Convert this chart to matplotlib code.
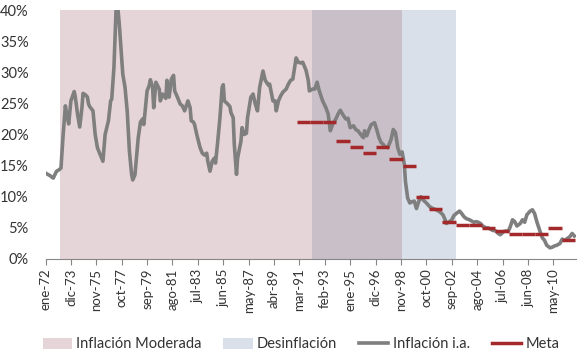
import numpy as np
import matplotlib
matplotlib.use('Agg')
import matplotlib.pyplot as plt
from matplotlib.patches import Patch
from matplotlib.lines import Line2D

plt.rcParams['font.family'] = ['Lato', 'DejaVu Sans']

# month index (0 = ene-72) and annual inflation (%)
months = [0, 2, 4, 7, 10, 12, 14, 16, 18, 19, 21, 23, 26, 27, 29, 31, 33, 34, 36, 38,
          39, 40, 43, 45, 47, 49, 52, 54, 57, 59, 60, 62, 64, 65, 67, 70, 72, 74, 76, 78,
          79, 81, 82, 84, 86, 88, 89, 90, 92, 94, 95, 97, 98, 100, 103, 104, 106, 109, 110, 112,
          114, 116, 117, 119, 122, 124, 126, 128, 129, 131, 132, 134, 135, 137, 140, 142, 144, 146, 147, 149,
          151, 153, 154, 156, 158, 160, 161, 162, 165, 167, 168, 170, 171, 173, 174, 177, 178, 180, 182, 183,
          186, 188, 190, 192, 194, 197, 199, 202, 203, 206, 208, 209, 211, 213, 215, 218, 220, 222, 224, 226,
          227, 229, 231, 233, 236, 238, 239, 242, 244, 246, 248, 251, 254, 256, 258, 260, 263, 265, 267, 270,
          272, 274, 276, 279, 281, 283, 286, 288, 289, 291, 293, 295, 298, 300, 302, 304, 306, 307, 310, 313,
          315, 317, 319, 321, 323, 325, 326, 328, 330, 332, 334, 336, 338, 340, 342, 345, 348, 351, 354, 357,
          360, 362, 363, 366, 368, 370, 372, 375, 377, 379, 381, 384, 386, 388, 390, 392, 394, 396, 399, 401,
          403, 405, 408, 410, 412, 415, 417, 419, 421, 423, 425, 427, 430, 432, 434, 436, 439, 441, 443, 445,
          448, 450, 452, 454, 457, 459, 461, 463, 466, 468, 470, 472, 475, 477, 479]
inflacion = [13.8, 13.6, 13.4, 13.0, 14.1, 14.3, 14.6, 20.0, 24.6, 23.5, 21.7, 25.4, 26.9, 26.0, 23.3, 21.2, 24.3, 26.6, 26.4, 26.0,
             24.9, 24.5, 23.8, 20.0, 17.9, 17.0, 15.7, 20.0, 22.2, 25.4, 25.7, 30.8, 40.5, 41.5, 37.3, 29.7, 27.6, 23.8, 17.3, 13.6,
             12.7, 13.5, 15.5, 19.5, 22.0, 22.5, 21.6, 23.3, 27.0, 27.9, 28.8, 27.6, 24.3, 28.4, 27.3, 25.4, 26.5, 25.8, 28.7, 26.0,
             28.9, 29.5, 27.0, 26.2, 24.9, 24.6, 23.8, 24.9, 25.4, 24.3, 22.2, 22.0, 21.6, 20.0, 17.9, 17.0, 16.7, 17.0, 15.7, 14.1,
             15.7, 16.2, 15.4, 18.9, 22.7, 27.6, 28.0, 25.4, 24.9, 24.5, 23.5, 22.7, 18.4, 13.6, 16.2, 18.9, 21.1, 20.0, 20.2, 22.7,
             26.0, 26.5, 24.9, 23.8, 27.6, 30.2, 28.7, 27.9, 28.1, 25.4, 25.4, 23.8, 25.4, 26.2, 26.8, 27.3, 28.1, 28.7, 28.9, 31.1,
             32.3, 31.6, 31.5, 31.6, 30.3, 28.7, 27.0, 27.3, 27.3, 28.4, 27.0, 25.4, 24.3, 23.3, 20.6, 21.6, 22.5, 23.3, 23.9, 23.0,
             22.5, 22.6, 21.1, 21.4, 20.8, 20.6, 19.9, 19.5, 20.6, 19.8, 20.8, 21.6, 21.9, 20.8, 19.5, 18.7, 18.4, 18.1, 17.9, 19.2,
             20.8, 20.3, 17.9, 16.8, 17.2, 15.2, 12.5, 9.8, 9.0, 9.2, 9.3, 8.1, 9.2, 10.0, 9.5, 9.0, 8.4, 8.1, 7.9, 7.6,
             7.1, 6.3, 5.7, 6.0, 6.3, 7.0, 7.3, 7.7, 7.3, 6.8, 6.5, 6.3, 6.1, 5.9, 6.0, 5.9, 5.7, 5.3, 5.0, 5.0,
             4.8, 4.6, 4.5, 4.1, 3.9, 4.4, 4.5, 4.4, 5.2, 6.3, 6.0, 5.3, 5.7, 6.3, 5.9, 7.1, 7.7, 7.9, 7.3, 6.0,
             4.4, 3.4, 3.0, 2.2, 1.8, 1.9, 2.1, 2.2, 2.5, 3.2, 3.0, 3.2, 3.6, 4.1, 3.7]

# inflation target by year (%)
meta_anios = [1991, 1992, 1993, 1994, 1995, 1996, 1997, 1998, 1999, 2000, 2001,
              2002, 2003, 2004, 2005, 2006, 2007, 2008, 2009, 2010, 2011]
meta = [22, 22, 22, 19, 18, 17, 18, 16, 15, 10, 8,
        6, 5.5, 5.5, 5, 4.5, 4, 4, 4, 5, 3]

# shaded periods, as month index (start, end)
moderada = (13, 323)
desinflacion = (241, 372)

tick_labels = ['ene-72', 'dic-73', 'nov-75', 'oct-77', 'sep-79', 'ago-81', 'jul-83',
               'jun-85', 'may-87', 'abr-89', 'mar-91', 'feb-93', 'ene-95', 'dic-96',
               'nov-98', 'oct-00', 'sep-02', 'ago-04', 'jul-06', 'jun-08', 'may-10']

PINK = '#e6d5d8'
BLUE = '#d9e0e9'
OVERLAP = '#c9bfc9'
GRAY = '#7f7f7f'
RED = '#a3292b'
TEXT = '#333333'


def main():
    fig = plt.figure(figsize=(5.82, 3.55), dpi=100)
    ax = fig.add_axes([45.5 / 582, 96 / 355, 530.5 / 582, 249 / 355])

    # shaded periods (overlap drawn in its own colour)
    ax.axvspan(moderada[0], desinflacion[0], color=PINK, lw=0, zorder=0)
    ax.axvspan(desinflacion[0], moderada[1], color=OVERLAP, lw=0, zorder=0)
    ax.axvspan(moderada[1], desinflacion[1], color=BLUE, lw=0, zorder=0)

    ax.plot(months, np.array(inflacion) / 100, color=GRAY, lw=2.6,
            solid_joinstyle='round', zorder=2)

    start = (np.array(meta_anios) - 1972) * 12 - 0.5
    ax.hlines(np.array(meta) / 100, start, start + 12, color=RED, lw=2.5, zorder=3)

    ax.set_xlim(0, 480.5)
    ax.set_ylim(0, 0.40)
    ax.set_yticks(np.arange(0, 0.41, 0.05))
    ax.set_yticklabels([f'{int(round(v * 100))}%' for v in np.arange(0, 0.41, 0.05)],
                       fontsize=10.5, color=TEXT)
    ax.set_xticks(np.arange(0, 480, 23))
    ax.set_xticklabels(tick_labels, rotation=90, fontsize=9.5, color=TEXT)

    ax.tick_params(axis='y', length=0, pad=12)
    ax.tick_params(axis='x', length=4, width=0.8, color='#868686', pad=3)
    for side in ['top', 'right', 'left']:
        ax.spines[side].set_visible(False)
    ax.spines['bottom'].set_color('#868686')
    ax.spines['bottom'].set_linewidth(0.8)

    handles = [Patch(color=PINK, lw=0), Patch(color=BLUE, lw=0),
               Line2D([], [], color=GRAY, lw=2.6), Line2D([], [], color=RED, lw=2.5)]
    labels = ['Inflación Moderada', 'Desinflación', 'Inflación i.a.', 'Meta']
    fig.legend(handles, labels, loc='center', bbox_to_anchor=(0.517, 0.03), ncol=4,
               frameon=False, fontsize=10.5, handlelength=2.0, handleheight=0.8,
               handletextpad=0.3, columnspacing=1.5, labelcolor=TEXT)

    fig.savefig('out.png', dpi=100)
    plt.close(fig)


if __name__ == '__main__':
    main()
